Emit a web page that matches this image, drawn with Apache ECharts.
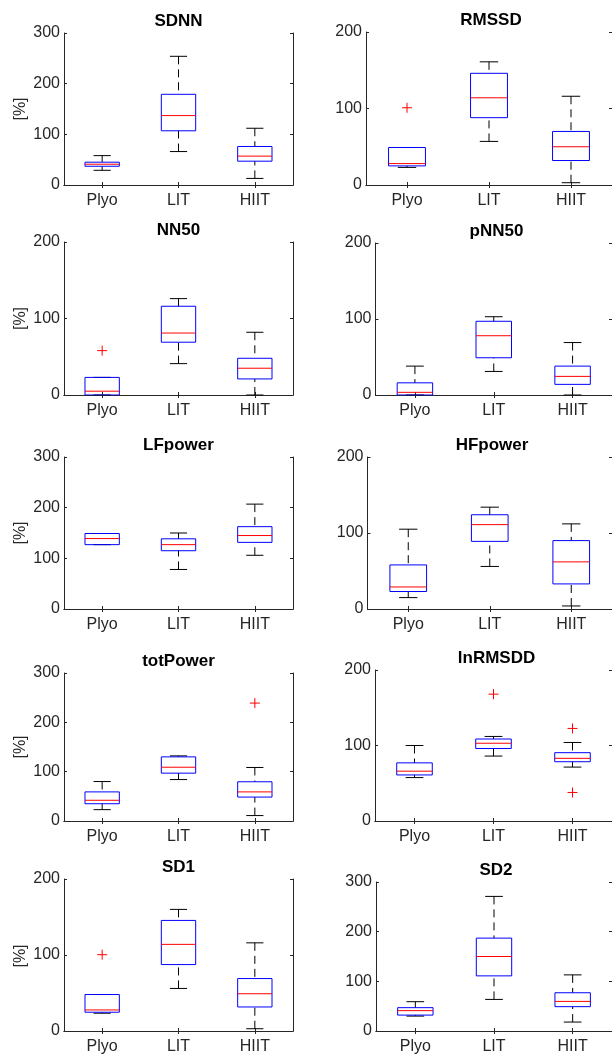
<!DOCTYPE html>
<html>
<head>
<meta charset="utf-8">
<script src="https://cdn.jsdelivr.net/npm/echarts@6/dist/echarts.min.js"></script>
<style>
html,body{margin:0;padding:0;background:#fff;}
#c{width:612px;height:1055px;}
</style>
</head>
<body>
<div id="c"></div>
<script>
// ---- data ----
const categories = ['Plyo', 'LIT', 'HIIT'];
const titles = ['SDNN', 'RMSSD', 'NN50', 'pNN50', 'LFpower', 'HFpower', 'totPower', 'lnRMSDD', 'SD1', 'SD2'];
const yMax = [300, 200, 200, 200, 300, 200, 300, 200, 200, 300];
const yTicks = [0, 100, 200, 300];
// each box: [lower whisker, Q1, median, Q3, upper whisker] for Plyo, LIT, HIIT
const sdnnBox     = [[29, 37, 41, 45, 58], [66, 107, 137, 179, 254], [13, 47, 57, 76, 112]];
const rmssdBox    = [[23, 25, 28, 49, 49], [57, 88, 114, 146, 161], [3, 32, 50, 70, 116]];
const nn50Box     = [[0, 0, 5, 23, 23], [41, 69, 81, 116, 126], [0, 21, 35, 48, 82]];
const pnn50Box    = [[0, 0, 3.5, 16, 38], [31, 49, 78, 97, 103], [0, 14, 24.5, 38, 69]];
const lfBox       = [[127, 127, 139, 149, 149], [78, 115, 127, 138.5, 150], [106, 131.5, 145, 162.5, 207]];
const hfBox       = [[15, 23, 29, 58, 105], [56, 89, 111, 124, 134], [4, 33, 62, 90, 112]];
const totBox      = [[23, 35, 42, 59, 80], [84, 97, 109, 130, 132], [11, 48.5, 59, 79.5, 108.5]];
const lnRmssdBox  = [[57.5, 61, 66, 77, 100], [86, 96, 103, 108.6, 112], [71.4, 78.5, 83, 90.5, 104]];
const sd1Box      = [[23.4, 24.7, 27.7, 48, 48], [56, 87.4, 114, 145.5, 160], [3, 31.6, 49, 69, 116]];
const sd2Box      = [[30, 32, 41, 47, 59], [63.6, 111, 150, 187, 271], [18, 49, 59.6, 77, 113]];
// outliers: [category index, value]
const sdnnOut    = [];
const rmssdOut   = [[0, 101]];
const nn50Out    = [[0, 58]];
const pnn50Out   = [];
const lfOut      = [];
const hfOut      = [];
const totOut     = [[2, 239]];
const lnRmssdOut = [[1, 168], [2, 122.6], [2, 37.8]];
const sd1Out     = [[0, 100.4]];
const sd2Out     = [];

const boxes = [sdnnBox, rmssdBox, nn50Box, pnn50Box, lfBox, hfBox, totBox, lnRmssdBox, sd1Box, sd2Box];
const outs = [sdnnOut, rmssdOut, nn50Out, pnn50Out, lfOut, hfOut, totOut, lnRmssdOut, sd1Out, sd2Out];

// ---- layout (px): left, top, width, height of each axes box ----
const layout = [
  [64, 33, 229, 152], [366, 32, 250, 153],
  [64, 242, 229, 153], [375.5, 243, 242, 152],
  [64, 457, 229, 152], [367.5, 457, 249, 152],
  [64, 673, 229, 148], [375, 670, 243, 151],
  [64, 879, 229, 154], [376, 882, 240, 151]
];

const FONT = '"Liberation Sans", Arial, Helvetica, sans-serif';
const AX = '#262626';
const HB = 0.225;   // half box width (category units)
const HC = 0.1125;  // half cap width
const GAP = '-';

// geometry builders (category k sits at x = k + 1 on the hidden value axis)
function boxPts(b) {
  const pts = [];
  b.forEach((v, k) => {
    const x = k + 1;
    pts.push([x - HB, v[1]], [x + HB, v[1]], [x + HB, v[3]], [x - HB, v[3]], [x - HB, v[1]], [x, GAP]);
  });
  return pts;
}
function medPts(b) {
  const pts = [];
  b.forEach((v, k) => { const x = k + 1; pts.push([x - HB, v[2]], [x + HB, v[2]], [x, GAP]); });
  return pts;
}
function whiskPts(b) {
  const pts = [];
  b.forEach((v, k) => {
    const x = k + 1;
    if (v[4] > v[3]) pts.push([x, v[4]], [x, v[3]], [x, GAP]);
    if (v[0] < v[1]) pts.push([x, v[0]], [x, v[1]], [x, GAP]);
  });
  return pts;
}
function capPts(b) {
  const pts = [];
  b.forEach((v, k) => {
    const x = k + 1;
    pts.push([x - HC, v[4]], [x + HC, v[4]], [x, GAP]);
    pts.push([x - HC, v[0]], [x + HC, v[0]], [x, GAP]);
  });
  return pts;
}

const grid = [], xAxis = [], yAxis = [], series = [], graphic = [];
const tickStyle = () => ({ show: true, inside: true, length: 3, lineStyle: { color: AX, width: 1 } });
const lineStyle = () => ({ show: true, lineStyle: { color: AX, width: 1 } });

function lineSeries(xi, yi, data, color, type, z) {
  return {
    type: 'line', xAxisIndex: xi, yAxisIndex: yi, data, connectNulls: false,
    symbol: 'none', showSymbol: false, silent: true, z,
    lineStyle: { color, width: 1, type, cap: 'butt' },
    itemStyle: { color }, emphasis: { disabled: true }
  };
}

titles.forEach((t, i) => {
  const [l, tp, w, h] = layout[i];
  grid.push({ left: l, top: tp, width: w, height: h, containLabel: false });
  xAxis.push({
    type: 'category', data: categories, gridIndex: i, position: 'bottom', boundaryGap: true,
    axisLine: lineStyle(), axisTick: Object.assign({ alignWithLabel: true }, tickStyle()),
    axisLabel: { show: true, color: AX, fontSize: 16, fontFamily: FONT, margin: 8 },
    splitLine: { show: false }
  });
  xAxis.push({
    type: 'category', data: categories, gridIndex: i, position: 'top', boundaryGap: true,
    axisLine: lineStyle(), axisTick: Object.assign({ alignWithLabel: true }, tickStyle()),
    axisLabel: { show: false }, splitLine: { show: false }
  });
  xAxis.push({
    type: 'value', gridIndex: i, min: 0.5, max: 3.5, show: false
  });
  yAxis.push({
    type: 'value', gridIndex: i, position: 'left', min: 0, max: yMax[i], interval: 100,
    axisLine: lineStyle(), axisTick: tickStyle(),
    axisLabel: {
      show: true, color: AX, fontSize: 16, fontFamily: FONT, margin: 4,
      formatter: v => (yTicks.indexOf(v) >= 0 ? String(v) : '')
    },
    splitLine: { show: false }
  });
  yAxis.push({
    type: 'value', gridIndex: i, position: 'right', min: 0, max: yMax[i], interval: 100,
    axisLine: lineStyle(), axisTick: tickStyle(), axisLabel: { show: false }, splitLine: { show: false }
  });
  const xi = 3 * i + 2, yi = 2 * i;
  const b = boxes[i];
  series.push(lineSeries(xi, yi, whiskPts(b), '#000000', [8, 5], 2));
  series.push(lineSeries(xi, yi, capPts(b), '#000000', 'solid', 3));
  series.push(lineSeries(xi, yi, boxPts(b), '#0000ff', 'solid', 4));
  series.push(lineSeries(xi, yi, medPts(b), '#ff0000', 'solid', 5));
  if (outs[i].length) {
    series.push({
      type: 'scatter', xAxisIndex: xi, yAxisIndex: yi, silent: true, z: 6,
      data: outs[i].map(o => [o[0] + 1, o[1]]),
      symbol: 'path://M0,5L10,5M5,0L5,10', symbolSize: 10,
      itemStyle: { color: 'rgba(0,0,0,0)', borderColor: '#ff0000', borderWidth: 1, opacity: 1 },
      emphasis: { disabled: true }
    });
  }
  graphic.push({
    type: 'text', x: l + w / 2, y: tp - 12,
    style: { text: t, fill: '#000', font: 'bold 17px ' + FONT, textAlign: 'center', textVerticalAlign: 'middle' }
  });
  if (i % 2 === 0) {
    graphic.push({
      type: 'text', x: 20.5, y: tp + h / 2, rotation: Math.PI / 2,
      style: { text: '[%]', fill: AX, font: '16px ' + FONT, textAlign: 'center', textVerticalAlign: 'middle' }
    });
  }
});

const chart = echarts.init(document.getElementById('c'), null, { renderer: 'canvas' });
chart.setOption({
  animation: false,
  backgroundColor: '#fff',
  grid, xAxis, yAxis, series, graphic
});
</script>
</body>
</html>
